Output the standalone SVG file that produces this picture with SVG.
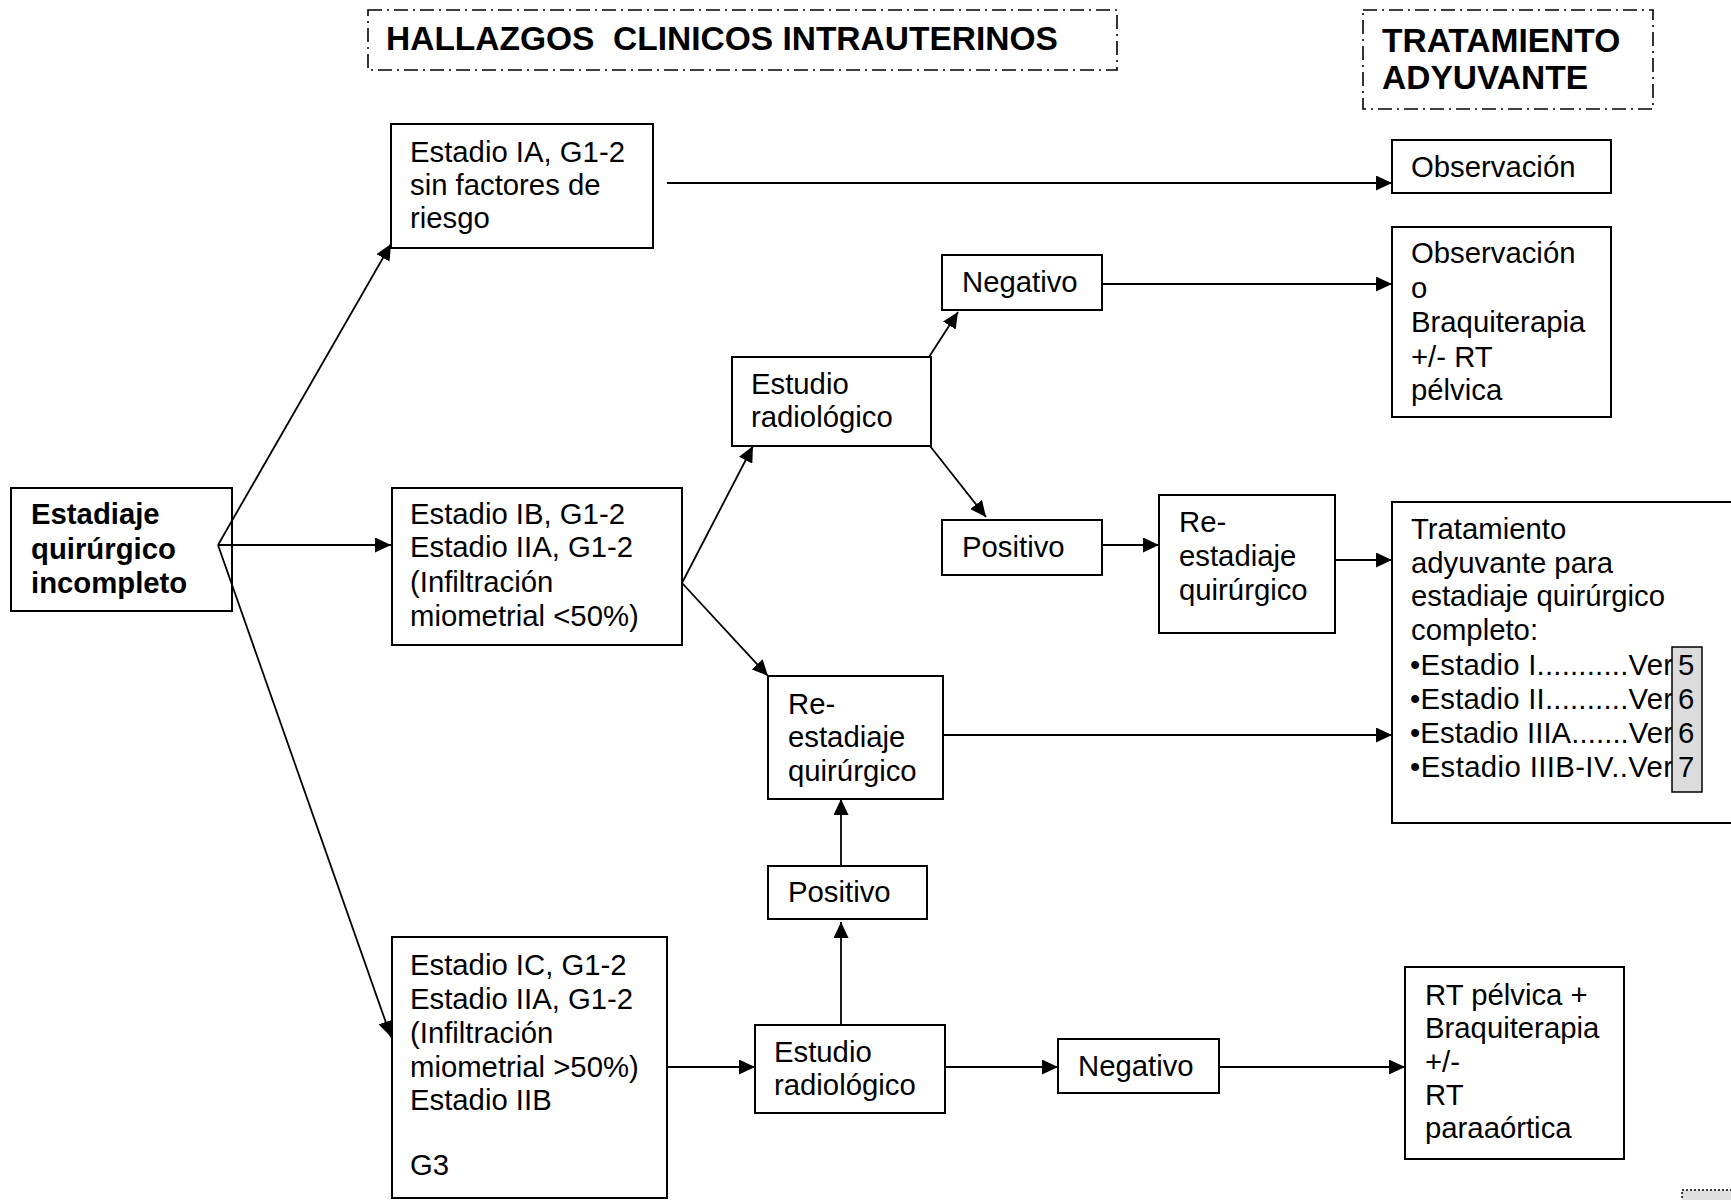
<svg xmlns="http://www.w3.org/2000/svg" width="1731" height="1200" viewBox="0 0 1731 1200">
  <style>
    text { font-family: "Liberation Sans", Arial, sans-serif; font-size: 29.3px; fill: #000; }
    .b { font-weight: bold; }
    .hd { font-weight: bold; font-size: 33.5px; white-space: pre; }
    .box { fill: #fff; stroke: #000; stroke-width: 2; }
    .frame { fill: none; stroke: #000; stroke-width: 1.6; stroke-dasharray: 14 5 2 5; }
    .ref { fill: #dcdcdc; stroke: #000; stroke-width: 1.5; }
    .conn line { stroke: #000; stroke-width: 1.8; fill: none; }
    .arr { marker-end: url(#ah); }
  </style>
  <defs>
    <marker id="ah" markerUnits="userSpaceOnUse" markerWidth="17" markerHeight="15" refX="16" refY="7.5" orient="auto">
      <path d="M0,0 L16,7.5 L0,15 z" fill="#000"/>
    </marker>
  </defs>
  <rect width="1731" height="1200" fill="#fff"/>

  <!-- column headings -->
  <g id="head-hallazgos">
    <rect class="frame" x="368" y="10" width="749" height="60"/>
    <text class="hd" x="386" y="50">HALLAZGOS  CLINICOS INTRAUTERINOS</text>
  </g>
  <g id="head-tratamiento">
    <rect class="frame" x="1363" y="10" width="290" height="99"/>
    <text class="hd" x="1382" y="52">TRATAMIENTO</text>
    <text class="hd" x="1382" y="89">ADYUVANTE</text>
  </g>

  <!-- connectors -->
  <g id="connectors" class="conn">
    <line class="arr" x1="218" y1="545" x2="391" y2="244"/>
    <line class="arr" x1="218" y1="545" x2="391" y2="545"/>
    <line class="arr" x1="218" y1="545" x2="391" y2="1037"/>
    <line class="arr" x1="667" y1="183" x2="1392" y2="183"/>
    <line class="arr" x1="682" y1="583" x2="753" y2="446"/>
    <line class="arr" x1="682" y1="583" x2="768" y2="676"/>
    <line class="arr" x1="929" y1="357" x2="958" y2="312"/>
    <line class="arr" x1="930" y1="446" x2="986" y2="517"/>
    <line class="arr" x1="1102" y1="284" x2="1392" y2="284"/>
    <line class="arr" x1="1102" y1="545" x2="1159" y2="545"/>
    <line class="arr" x1="1335" y1="560" x2="1392" y2="560"/>
    <line class="arr" x1="943" y1="735" x2="1392" y2="735"/>
    <line class="arr" x1="841" y1="866" x2="841" y2="799"/>
    <line class="arr" x1="841" y1="1024" x2="841" y2="922"/>
    <line class="arr" x1="667" y1="1067" x2="755" y2="1067"/>
    <line class="arr" x1="945" y1="1067" x2="1058" y2="1067"/>
    <line class="arr" x1="1219" y1="1067" x2="1405" y2="1067"/>
  </g>

  <!-- nodes -->
  <g id="n-incompleto">
    <rect class="box" x="11" y="488" width="221" height="123" style="fill:none"/>
    <text class="b" x="31" y="524">Estadiaje</text>
    <text class="b" x="31" y="559">quirúrgico</text>
    <text class="b" x="31" y="593">incompleto</text>
  </g>
  <g id="n-ia">
    <rect class="box" x="391" y="124" width="262" height="124"/>
    <text x="410" y="162">Estadio IA, G1-2</text>
    <text x="410" y="195">sin factores de</text>
    <text x="410" y="228">riesgo</text>
  </g>
  <g id="n-ib">
    <rect class="box" x="392" y="488" width="290" height="157"/>
    <text x="410" y="524">Estadio IB, G1-2</text>
    <text x="410" y="557">Estadio IIA, G1-2</text>
    <text x="410" y="592">(Infiltración</text>
    <text x="410" y="626">miometrial &lt;50%)</text>
  </g>
  <g id="n-ic">
    <rect class="box" x="392" y="937" width="275" height="261"/>
    <text x="410" y="975">Estadio IC, G1-2</text>
    <text x="410" y="1009">Estadio IIA, G1-2</text>
    <text x="410" y="1043">(Infiltración</text>
    <text x="410" y="1077">miometrial &gt;50%)</text>
    <text x="410" y="1110">Estadio IIB</text>
    <text x="410" y="1175">G3</text>
  </g>
  <g id="n-estudio-1">
    <rect class="box" x="732" y="357" width="199" height="89"/>
    <text x="751" y="394">Estudio</text>
    <text x="751" y="427">radiológico</text>
  </g>
  <g id="n-negativo-1">
    <rect class="box" x="942" y="255" width="160" height="55"/>
    <text x="962" y="292">Negativo</text>
  </g>
  <g id="n-positivo-1">
    <rect class="box" x="942" y="520" width="160" height="55"/>
    <text x="962" y="557">Positivo</text>
  </g>
  <g id="n-reestadiaje-1">
    <rect class="box" x="1159" y="495" width="176" height="138"/>
    <text x="1179" y="532">Re-</text>
    <text x="1179" y="566">estadiaje</text>
    <text x="1179" y="600">quirúrgico</text>
  </g>
  <g id="n-reestadiaje-2">
    <rect class="box" x="768" y="676" width="175" height="123"/>
    <text x="788" y="714">Re-</text>
    <text x="788" y="747">estadiaje</text>
    <text x="788" y="781">quirúrgico</text>
  </g>
  <g id="n-positivo-2">
    <rect class="box" x="768" y="866" width="159" height="53"/>
    <text x="788" y="902">Positivo</text>
  </g>
  <g id="n-estudio-2">
    <rect class="box" x="755" y="1025" width="190" height="88"/>
    <text x="774" y="1062">Estudio</text>
    <text x="774" y="1095">radiológico</text>
  </g>
  <g id="n-negativo-2">
    <rect class="box" x="1058" y="1039" width="161" height="54"/>
    <text x="1078" y="1076">Negativo</text>
  </g>
  <g id="n-observacion">
    <rect class="box" x="1392" y="140" width="219" height="53"/>
    <text x="1411" y="177">Observación</text>
  </g>
  <g id="n-observacion-braqui">
    <rect class="box" x="1392" y="227" width="219" height="190"/>
    <text x="1411" y="263">Observación</text>
    <text x="1411" y="298">o</text>
    <text x="1411" y="332">Braquiterapia</text>
    <text x="1411" y="367">+/- RT</text>
    <text x="1411" y="400">pélvica</text>
  </g>
  <g id="n-tratamiento-completo">
    <rect class="box" x="1392" y="502" width="360" height="321"/>
    <text x="1411" y="539">Tratamiento</text>
    <text x="1411" y="573">adyuvante para</text>
    <text x="1411" y="606">estadiaje quirúrgico</text>
    <text x="1411" y="640">completo:</text>
    <text x="1410" y="675" textLength="263">•Estadio I...........Ver</text>
    <text x="1410" y="709" textLength="263">•Estadio II..........Ver</text>
    <text x="1410" y="743" textLength="263">•Estadio IIIA.......Ver</text>
    <text x="1410" y="777" textLength="263">•Estadio IIIB-IV..Ver</text>
    <rect class="ref" x="1672" y="647" width="30" height="145"/>
    <text x="1678" y="675">5</text>
    <text x="1678" y="709">6</text>
    <text x="1678" y="743">6</text>
    <text x="1678" y="777">7</text>
  </g>
  <g id="n-rt-pelvica">
    <rect class="box" x="1405" y="967" width="219" height="192"/>
    <text x="1425" y="1005">RT pélvica +</text>
    <text x="1425" y="1038">Braquiterapia</text>
    <text x="1425" y="1072">+/-</text>
    <text x="1425" y="1105">RT</text>
    <text x="1425" y="1138">paraaórtica</text>
  </g>

  <!-- page marker, lower right -->
  <g id="page-mark">
    <rect x="1682" y="1190" width="60" height="20" fill="#e0e0e0" stroke="#000" stroke-width="1.5" stroke-dasharray="2 2"/>
  </g>
</svg>
